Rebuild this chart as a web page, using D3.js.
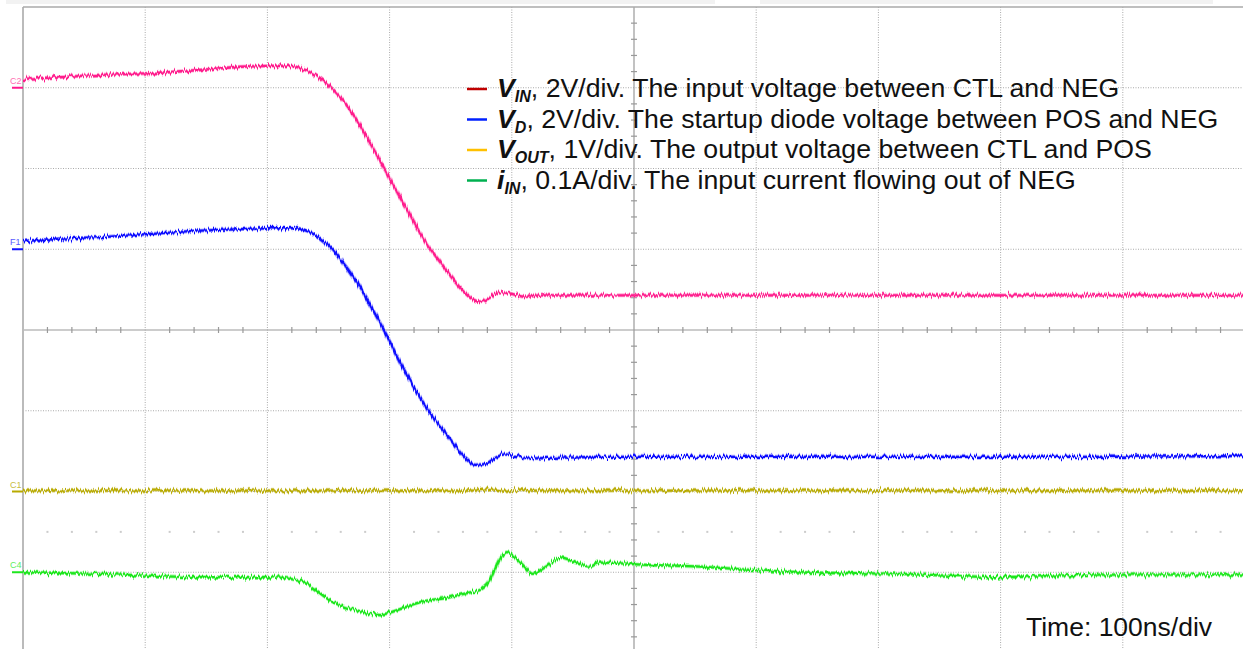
<!DOCTYPE html>
<html>
<head>
<meta charset="utf-8">
<script src="https://cdn.jsdelivr.net/npm/d3@7"></script>
<style>
  html, body { margin: 0; padding: 0; background: #fff; }
  svg { display: block; font-family: "Liberation Sans", Arial, sans-serif; }
</style>
</head>
<body>
<svg id="scope" width="1243" height="649"></svg>
<script>
// time in ns (100ns/div, 10 divs), values in screen divisions from centre line

// C2 - V_IN (pink)
const vinT   = [0, 30, 63, 104, 145, 178, 202, 218, 231, 243, 251, 268, 288, 309, 329, 345, 359, 366, 374, 382, 390, 399, 411, 423, 472, 554, 636, 718, 800, 881, 1000];
const vinDiv = [3.11, 3.13, 3.16, 3.18, 3.22, 3.26, 3.27, 3.27, 3.22, 3.12, 3.02, 2.72, 2.21, 1.63, 1.10, 0.77, 0.50, 0.40, 0.35, 0.40, 0.47, 0.45, 0.41, 0.43, 0.43, 0.43, 0.43, 0.43, 0.43, 0.43, 0.43];

// F1 - V_D (blue)
const vdT   = [0, 30, 63, 104, 145, 178, 202, 223, 235, 247, 259, 272, 284, 296, 309, 321, 333, 349, 362, 370, 378, 386, 394, 403, 415, 472, 554, 636, 718, 800, 881, 1000];
const vdDiv = [1.10, 1.13, 1.15, 1.19, 1.23, 1.25, 1.26, 1.26, 1.21, 1.09, 0.89, 0.62, 0.31, -0.02, -0.41, -0.74, -1.02, -1.34, -1.59, -1.67, -1.66, -1.59, -1.54, -1.56, -1.59, -1.57, -1.57, -1.57, -1.57, -1.57, -1.57, -1.56];

// C1 - V_OUT (olive)
const voutT   = [0, 200, 370, 382, 394, 600, 800, 1000];
const voutDiv = [-1.99, -1.99, -1.99, -1.97, -1.99, -1.99, -1.99, -1.99];

// C4 - i_IN (green)
const iinT   = [0, 63, 145, 202, 227, 255, 272, 294, 308, 325, 349, 366, 374, 382, 386, 390, 396, 403, 411, 417, 427, 441, 452, 464, 472, 513, 554, 595, 636, 718, 800, 881, 1000];
const iinDiv = [-3.00, -3.02, -3.06, -3.06, -3.11, -3.38, -3.47, -3.52, -3.46, -3.37, -3.31, -3.25, -3.22, -3.10, -2.97, -2.85, -2.75, -2.82, -2.94, -3.02, -2.94, -2.82, -2.88, -2.93, -2.88, -2.91, -2.93, -2.97, -3.00, -3.02, -3.06, -3.03, -3.03];

// channel tags on the left edge
const tagNames = ["C2", "F1", "C1", "C4"];
const tagLevels = [3, 1, -2, -3];

// legend
const legendSymbols = ["V", "V", "V", "i"];
const legendSubs = ["IN", "D", "OUT", "IN"];
const legendTexts = [
    ", 2V/div. The input voltage between CTL and NEG",
    ", 2V/div. The startup diode voltage between POS and NEG",
    ", 1V/div. The output voltage between CTL and POS",
    ", 0.1A/div. The input current flowing out of NEG"
];
const legendColors = ["#c00000", "#0020ff", "#ffc000", "#00b050"];

const timeLabel = "Time: 100ns/div";

//////////////////////////////////////// setup /////////////////////////

var svg = d3.select("#scope");
var plot = { left: 23, right: 1245, top: 7, bottom: 653 };

var x = d3.scaleLinear().domain([0, 1000]).range([plot.left, plot.right]);
var y = d3.scaleLinear().domain([-4, 4]).range([plot.bottom, plot.top]);

var defs = svg.append("defs");
defs.append("clipPath").attr("id", "plotclip")
    .append("rect")
    .attr("x", plot.left).attr("y", plot.top)
    .attr("width", plot.right - plot.left).attr("height", 649 - plot.top);

// scope noise look (render effect only)
var jit = defs.append("filter").attr("id", "jit")
    .attr("filterUnits", "userSpaceOnUse")
    .attr("x", 0).attr("y", 0).attr("width", 1243).attr("height", 649);
jit.append("feTurbulence").attr("type", "fractalNoise")
    .attr("baseFrequency", "0.7 0.03").attr("numOctaves", 2).attr("seed", 4).attr("result", "n");
jit.append("feColorMatrix").attr("in", "n").attr("type", "matrix")
    .attr("values", "0 0 0 0 0.5  0 1 0 0 0  0 0 0 0 0  0 0 0 0 1").attr("result", "m");
jit.append("feDisplacementMap").attr("in", "SourceGraphic").attr("in2", "m")
    .attr("scale", 8).attr("xChannelSelector", "R").attr("yChannelSelector", "G");

// top strip
svg.append("rect").attr("x", 6).attr("y", 0).attr("width", 709).attr("height", 4).attr("fill", "#f2f2f2");
svg.append("rect").attr("x", 760).attr("y", 0).attr("width", 453).attr("height", 4).attr("fill", "#f2f2f2");

//////////////////////////////////////// graticule /////////////////////////

var grid = svg.append("g").attr("clip-path", "url(#plotclip)");
var vDivs = d3.range(1, 10);
var hDivs = d3.range(-3, 4);

grid.selectAll(".vgrid")
    .data(vDivs.filter(d => d !== 5))
    .enter().append("line")
    .attr("x1", d => x(d * 100)).attr("x2", d => x(d * 100))
    .attr("y1", plot.top).attr("y2", plot.bottom)
    .attr("stroke", "#aaa").attr("stroke-width", 1).attr("stroke-dasharray", "1,1.5");

grid.selectAll(".hgrid")
    .data(hDivs.filter(d => d !== 0))
    .enter().append("line")
    .attr("x1", plot.left).attr("x2", plot.right)
    .attr("y1", d => y(d)).attr("y2", d => y(d))
    .attr("stroke", "#aaa").attr("stroke-width", 1).attr("stroke-dasharray", "1,1.5");

// row of dots half way between -2 and -3
grid.selectAll(".dots")
    .data(d3.range(1, 50).filter(d => d % 5 !== 0))
    .enter().append("rect")
    .attr("x", d => x(d * 20) - 1).attr("y", y(-2.5) - 1)
    .attr("width", 2).attr("height", 2).attr("fill", "#ccc");

// centre axes with minor ticks
grid.append("line")
    .attr("x1", plot.left).attr("x2", plot.right)
    .attr("y1", y(0)).attr("y2", y(0))
    .attr("stroke", "#999").attr("stroke-width", 1.2);
grid.append("line")
    .attr("x1", x(500)).attr("x2", x(500))
    .attr("y1", plot.top).attr("y2", plot.bottom)
    .attr("stroke", "#999").attr("stroke-width", 1.2);

grid.selectAll(".xtick")
    .data(d3.range(1, 50).filter(d => d % 5 !== 0))
    .enter().append("line")
    .attr("x1", d => x(d * 20)).attr("x2", d => x(d * 20))
    .attr("y1", y(0) - 3).attr("y2", y(0) + 3)
    .attr("stroke", "#999").attr("stroke-width", 1.2);
grid.selectAll(".ytick")
    .data(d3.range(-19, 20).filter(d => d % 5 !== 0))
    .enter().append("line")
    .attr("x1", x(500) - 3).attr("x2", x(500) + 3)
    .attr("y1", d => y(d / 5)).attr("y2", d => y(d / 5))
    .attr("stroke", "#999").attr("stroke-width", 1.2);

// border
svg.append("line").attr("x1", plot.left).attr("x2", plot.left).attr("y1", plot.top).attr("y2", 649)
    .attr("stroke", "#bbb").attr("stroke-width", 2);
svg.append("line").attr("x1", plot.left).attr("x2", plot.right).attr("y1", plot.top).attr("y2", plot.top)
    .attr("stroke", "#aaa").attr("stroke-width", 1.5);

//////////////////////////////////////// traces /////////////////////////

var traces = [
    { t: vinT, v: vinDiv, color: "#ff1a8c", halo: "#ff8cc4" },
    { t: vdT, v: vdDiv, color: "#1010ff", halo: "#8c8cff" },
    { t: voutT, v: voutDiv, color: "#b8aa00", halo: "#dcd480" },
    { t: iinT, v: iinDiv, color: "#1ee61e", halo: "#8cf58c" }
];

var line = d3.line()
    .x(d => x(d[0]))
    .y(d => y(d[1]))
    .curve(d3.curveMonotoneX);

var traceG = svg.append("g").attr("clip-path", "url(#plotclip)")
    .append("g").attr("filter", "url(#jit)");

traces.forEach(tr => {
    var pts = d3.zip(tr.t, tr.v);
    traceG.append("path").datum(pts)
        .attr("d", line).attr("fill", "none")
        .attr("stroke", tr.halo).attr("stroke-width", 4).attr("stroke-opacity", 0.7);
    traceG.append("path").datum(pts)
        .attr("d", line).attr("fill", "none")
        .attr("stroke", tr.color).attr("stroke-width", 2.3);
});

// channel tags
var tagColors = ["#ff1a8c", "#1010ff", "#b8aa00", "#1ee61e"];
var tagText = ["#ff6eb4", "#5a5aff", "#c8bc40", "#60ee60"];
tagNames.forEach((n, i) => {
    svg.append("line")
        .attr("x1", 12).attr("x2", plot.left)
        .attr("y1", y(tagLevels[i])).attr("y2", y(tagLevels[i]))
        .attr("stroke", tagColors[i]).attr("stroke-width", 2);
    svg.append("text")
        .attr("x", 10).attr("y", y(tagLevels[i]) - 4)
        .attr("font-size", 9).attr("fill", tagText[i])
        .text(n);
});

//////////////////////////////////////// legend /////////////////////////

var legend = svg.append("g").attr("transform", "translate(467,97)");
legendTexts.forEach((txt, i) => {
    var row = legend.append("g").attr("transform", "translate(0," + (i * 30.5) + ")");
    row.append("line")
        .attr("x1", 0).attr("x2", 20).attr("y1", -8).attr("y2", -8)
        .attr("stroke", legendColors[i]).attr("stroke-width", 2.5);
    var t = row.append("text").attr("x", 30).attr("y", 0)
        .attr("font-size", 26.7).attr("fill", "#111");
    t.append("tspan").attr("font-weight", "bold").attr("font-style", "italic").text(legendSymbols[i]);
    t.append("tspan").attr("font-weight", "bold").attr("font-style", "italic")
        .attr("font-size", 16).attr("dy", 5).text(legendSubs[i]);
    t.append("tspan").attr("dy", -5).text(txt);
});

svg.append("text")
    .attr("x", 1026).attr("y", 636)
    .attr("font-size", 26.5).attr("fill", "#111")
    .text(timeLabel);
</script>
</body>
</html>
